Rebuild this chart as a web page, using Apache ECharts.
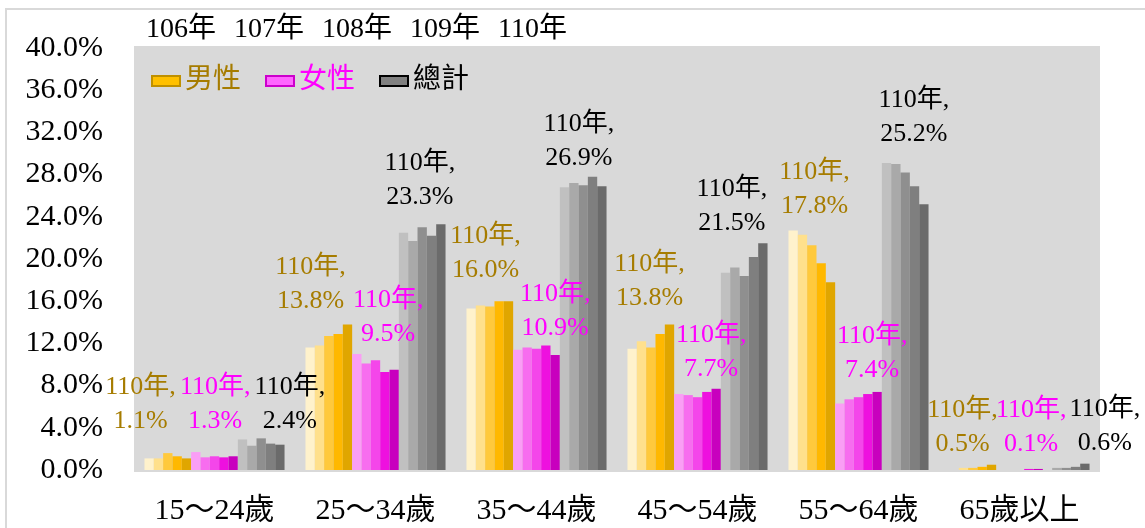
<!DOCTYPE html>
<html>
<head>
<meta charset="utf-8">
<script src="https://cdn.jsdelivr.net/npm/echarts@6/dist/echarts.min.js"></script>
<style>html,body{margin:0;padding:0;background:#fff;}#c{width:1145px;height:528px;}</style>
</head>
<body>
<div id="c"></div>
<script>
const categories = ['15～24歲', '25～34歲', '35～44歲', '45～54歲', '55～64歲', '65歲以上'];
const years = ['106年', '107年', '108年', '109年', '110年'];
const yTicks = [0, 4, 8, 12, 16, 20, 24, 28, 32, 36, 40];

const male106 = [1.1, 11.6, 15.3, 11.5, 22.7, null];
const male107 = [1.1, 11.8, 15.6, 12.2, 22.3, 0.2];
const male108 = [1.6, 12.7, 15.5, 11.6, 21.3, 0.2];
const male109 = [1.3, 12.9, 16.0, 12.9, 19.6, 0.3];
const male110 = [1.1, 13.8, 16.0, 13.8, 17.8, 0.5];

const female106 = [1.7, 11.0, 11.4, 7.2, 6.3, null];
const female107 = [1.2, 10.1, 11.6, 7.1, 6.7, 0.0];
const female108 = [1.3, 10.4, 11.5, 6.9, 6.9, 0.0];
const female109 = [1.2, 9.3, 11.8, 7.4, 7.2, 0.1];
const female110 = [1.3, 9.5, 10.9, 7.7, 7.4, 0.1];

const total106 = [2.9, 22.5, 26.8, 18.7, 29.1, null];
const total107 = [2.3, 21.7, 27.2, 19.2, 29.0, 0.2];
const total108 = [3.0, 23.0, 27.0, 18.4, 28.2, 0.2];
const total109 = [2.5, 22.2, 27.8, 20.2, 26.9, 0.3];
const total110 = [2.4, 23.3, 26.9, 21.5, 25.2, 0.6];

// label placement (style only): offsets of the 110年 labels per category
const maleLabelOffsets = [[-46, -20], [-37, -6], [-23, -14], [-20, -9], [-16, -59], [-29, -4]];
const femaleLabelOffsets = [[-18, -18], [-6, -19], [0, -10], [-5, -3], [-5, -5], [-7, -8]];
const totalLabelOffsets = [[10, -7], [-21, -10], [-23, -11], [-31, -3], [-10, -53], [20, -3]];

const FONT = "'Liberation Serif', 'Noto Sans CJK TC', serif";

const groups = [
  { name: '男性', data: [male106, male107, male108, male109, male110],
    colors: ['#FFF2CC', '#FFE08C', '#FFC93C', '#FFB800', '#E0A600'],
    labelColor: '#A67C00', offsets: maleLabelOffsets },
  { name: '女性', data: [female106, female107, female108, female109, female110],
    colors: ['#FA9EF5', '#F76DEF', '#F446EA', '#EE10DF', '#C800BE'],
    labelColor: '#FF00FF', offsets: femaleLabelOffsets },
  { name: '總計', data: [total106, total107, total108, total109, total110],
    colors: ['#C0C0C0', '#A9A9A9', '#8F8F8F', '#7F7F7F', '#6B6B6B'],
    labelColor: '#000000', offsets: totalLabelOffsets }
];

const series = [];
groups.forEach(g => {
  g.data.forEach((arr, yi) => {
    const isLast = yi === years.length - 1;
    series.push({
      type: 'bar',
      name: g.name,
      barGap: '0%',
      barCategoryGap: '13%',
      itemStyle: { color: g.colors[yi] },
      emphasis: { disabled: true },
      data: arr.map((v, ci) => {
        if (!isLast) return v;
        return {
          value: v,
          label: {
            show: true,
            position: 'top',
            distance: 0,
            offset: g.offsets[ci],
            color: g.labelColor,
            fontFamily: FONT,
            fontSize: 26,
            lineHeight: 34,
            align: 'center',
            formatter: p => years[4] + ',\n' + Number(p.value).toFixed(1) + '%'
          }
        };
      })
    });
  });
});

const chart = echarts.init(document.getElementById('c'));
chart.setOption({
  animation: false,
  backgroundColor: '#ffffff',
  textStyle: { fontFamily: FONT },
  graphic: [
    { type: 'rect', z: -100, shape: { x: 6, y: 9, width: 1150, height: 530 },
      style: { fill: '#ffffff', stroke: '#D9D9D9', lineWidth: 2 } },
    { type: 'rect', z: -90, shape: { x: 134, y: 46, width: 966, height: 426 },
      style: { fill: '#D9D9D9' } }
  ].concat(years.map((y, i) => ({
    type: 'text', z: 10, left: 146 + i * 88, top: 16,
    style: { text: y, font: '28px ' + FONT, fill: '#000' }
  }))),
  legend: {
    left: 146, top: 62,
    itemWidth: 28, itemHeight: 10, itemGap: 24,
    textStyle: { fontSize: 28, fontFamily: FONT },
    selectedMode: false,
    data: [
      { name: '男性', icon: 'rect', itemStyle: { color: '#FFC000', borderColor: '#BF9000', borderWidth: 2 }, textStyle: { color: '#A67C00' } },
      { name: '女性', icon: 'rect', itemStyle: { color: '#FF66FF', borderColor: '#CC00CC', borderWidth: 2 }, textStyle: { color: '#FF00FF' } },
      { name: '總計', icon: 'rect', itemStyle: { color: '#808080', borderColor: '#000000', borderWidth: 2 }, textStyle: { color: '#000000' } }
    ]
  },
  grid: { left: 134, right: 45, top: 48, bottom: 58, containLabel: false },
  xAxis: {
    type: 'category',
    data: categories,
    axisLine: { show: false },
    axisTick: { show: false },
    axisLabel: { fontSize: 30, color: '#000', margin: 26, fontFamily: FONT }
  },
  yAxis: {
    type: 'value',
    min: yTicks[0], max: yTicks[yTicks.length - 1], interval: yTicks[1] - yTicks[0],
    axisLine: { show: false },
    axisTick: { show: false },
    splitLine: { show: false },
    axisLabel: { fontSize: 30, color: '#000', margin: 31, fontFamily: FONT,
      formatter: v => v.toFixed(1) + '%' }
  },
  series: series
});
</script>
</body>
</html>
